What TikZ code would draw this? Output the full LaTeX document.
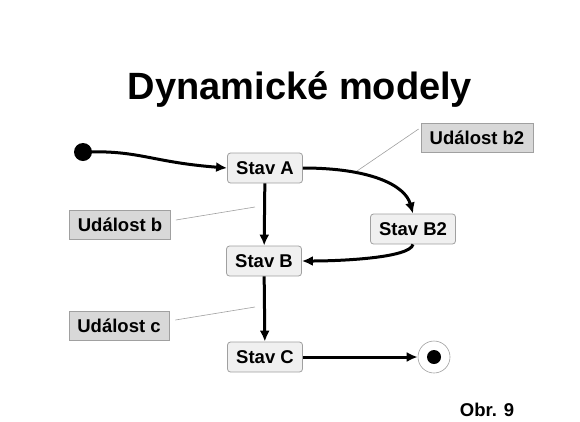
\documentclass[tikz,border=0pt]{standalone}
\usepackage{fontspec}
\setmainfont{Liberation Sans}
\usetikzlibrary{arrows.meta}
\definecolor{statefill}{HTML}{F0F0F0}
\definecolor{eventfill}{HTML}{D8D8D8}
\definecolor{edgegray}{HTML}{A0A0A0}
\begin{document}
\begin{tikzpicture}[x=1pt,y=-1pt,
  lbl/.style={font=\bfseries\fontsize{18.5}{21}\selectfont},
  state/.style={lbl, draw=edgegray, fill=statefill, rounded corners=3pt, line width=0.8pt,
    minimum width=75pt, minimum height=30pt, inner sep=2pt},
  event/.style={lbl, draw=edgegray, fill=eventfill, line width=0.8pt,
    minimum height=29pt, inner sep=3pt},
  flow/.style={line width=3pt, -{Latex[length=11pt,width=10pt]}},
  note/.style={draw=edgegray, line width=0.6pt}]
\useasboundingbox (0,0) rectangle (580,421);
\node[font=\bfseries\fontsize{38}{44}\selectfont] (title) at (300,90) {Dynamické modely};
\fill (83,152) circle (9pt);
\coordinate (start) at (83,152);
\node[state] (A) at (265,168) {Stav A};
\node[state] (B) at (264,261) {Stav B};
\node[state, minimum width=85pt] (B2) at (413,229) {Stav B2};
\node[state] (C) at (265,357) {Stav C};
\node[circle, draw=edgegray, fill=white, line width=0.6pt, minimum size=32pt, inner sep=0pt] (end) at (434,357) {};
\fill (end.center) circle (7pt);
\node[event, minimum width=112pt] (eb2) at (477,138) {Událost b2};
\node[event, minimum width=101pt] (eb) at (120,225) {Událost b};
\node[event, minimum width=100pt] (ec) at (119,326) {Událost c};
\node[lbl] (obr) at (487,410) {Obr. 9};
\draw[flow] (start) .. controls (140,150) and (150,162) .. (A.west);
\draw[flow] (A) -- (B);
\draw[flow] (B) -- (C);
\draw[flow] (A.east) .. controls (370,168) and (405,185) .. (B2.north);
\draw[flow] (B2.south) .. controls (410,258) and (340,261) .. (B.east);
\draw[flow] (C) -- (end);
\coordinate (nb2) at (357,171);
\coordinate (nb) at (255,207);
\coordinate (nc) at (255,307);
\draw[note] (eb2.west) ++(-2,-9) -- (nb2);
\draw[note] (eb.east) ++(5,-5) -- (nb);
\draw[note] (ec.east) ++(6,-6) -- (nc);
\end{tikzpicture}
\end{document}
